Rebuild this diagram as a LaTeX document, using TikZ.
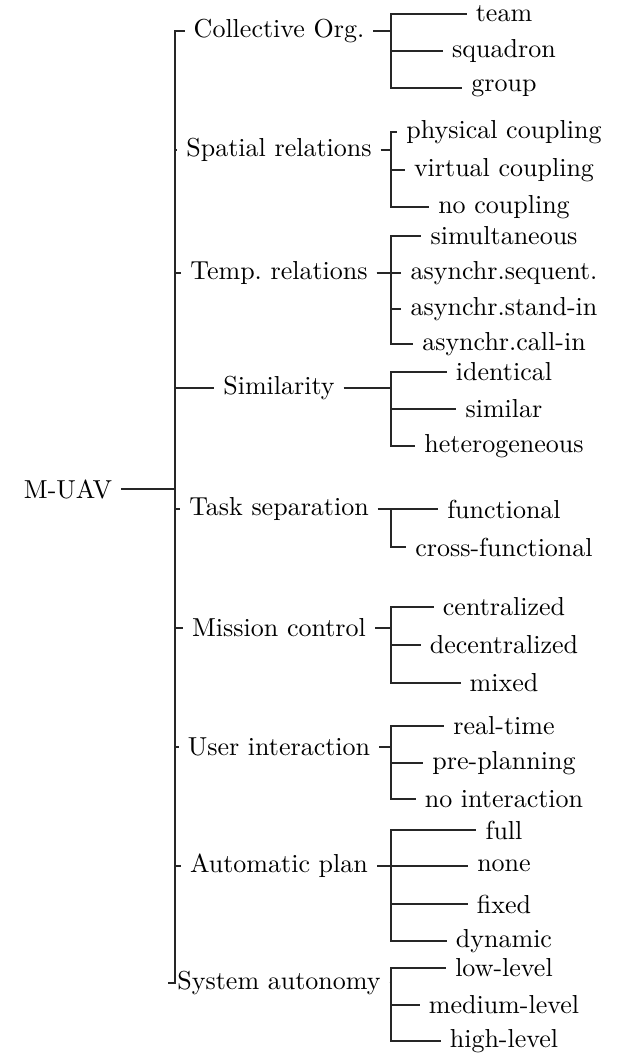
\documentclass[tikz,border=0pt]{standalone}
\begin{document}
\begin{tikzpicture}[x=0.3846pt,y=-0.3846pt,
  lbl/.style={inner sep=3.33pt},
  link/.style={line width=0.4pt, draw=black!85}]
\useasboundingbox (0,0) rectangle (618,1053);
% fork columns
\coordinate (f1) at (175,0);
\coordinate (f2) at (391,0);
% root
\node[lbl] (root) at (68,489) {M-UAV};
% first level
\node[lbl] (a) at (279,31)  {Collective Org.};
\node[lbl] (b) at (279,150) {Spatial relations};
\node[lbl] (c) at (279,273) {Temp.\ relations};
\node[lbl] (d) at (279,388) {Similarity};
\node[lbl] (e) at (279,509) {Task separation};
\node[lbl] (f) at (279,628) {Mission control};
\node[lbl] (g) at (279,747) {User interaction};
\node[lbl] (h) at (279,866) {Automatic plan};
\node[lbl] (i) at (279,983) {System autonomy};
% leaves
\node[lbl] (a1) at (504,14)  {team};
\node[lbl] (a2) at (504,51)  {squadron};
\node[lbl] (a3) at (504,88)  {group};
\node[lbl] (b1) at (504,132) {physical coupling};
\node[lbl] (b2) at (504,170) {virtual coupling};
\node[lbl] (b3) at (504,207) {no coupling};
\node[lbl] (c1) at (504,236) {simultaneous};
\node[lbl] (c2) at (504,273) {asynchr.sequent.};
\node[lbl] (c3) at (504,309) {asynchr.stand-in};
\node[lbl] (c4) at (504,344) {asynchr.call-in};
\node[lbl] (d1) at (504,372) {identical};
\node[lbl] (d2) at (504,409) {similar};
\node[lbl] (d3) at (504,446) {heterogeneous};
\node[lbl] (e1) at (504,509) {functional};
\node[lbl] (e2) at (504,547) {cross-functional};
\node[lbl] (f1n) at (504,607) {centralized};
\node[lbl] (f2n) at (504,645) {decentralized};
\node[lbl] (f3n) at (504,683) {mixed};
\node[lbl] (g1) at (504,726) {real-time};
\node[lbl] (g2) at (504,763) {pre-planning};
\node[lbl] (g3) at (504,799) {no interaction};
\node[lbl] (h1) at (504,830) {full};
\node[lbl] (h2) at (504,866) {none};
\node[lbl] (h3) at (504,904) {fixed};
\node[lbl] (h4) at (504,941) {dynamic};
\node[lbl] (i1) at (504,968) {low-level};
\node[lbl] (i2) at (504,1005) {medium-level};
\node[lbl] (i3) at (504,1041) {high-level};
% root to first level
\foreach \p in {a,b,c,d,e,g,h,i,f}
  \draw[link] (root.east) -- (root.east -| f1) |- (\p.west);
% first level to leaves
\foreach \p/\k in {a/a1,a/a2,a/a3,b/b1,b/b2,b/b3,c/c1,c/c2,c/c3,c/c4,
                   d/d1,d/d2,d/d3,e/e1,e/e2,f/f1n,f/f2n,f/f3n,
                   g/g1,g/g2,g/g3,h/h1,h/h2,h/h3,h/h4,i/i1,i/i2,i/i3}
  \draw[link] (\p.east) -- (\p.east -| f2) |- (\k.west);
\end{tikzpicture}
\end{document}
